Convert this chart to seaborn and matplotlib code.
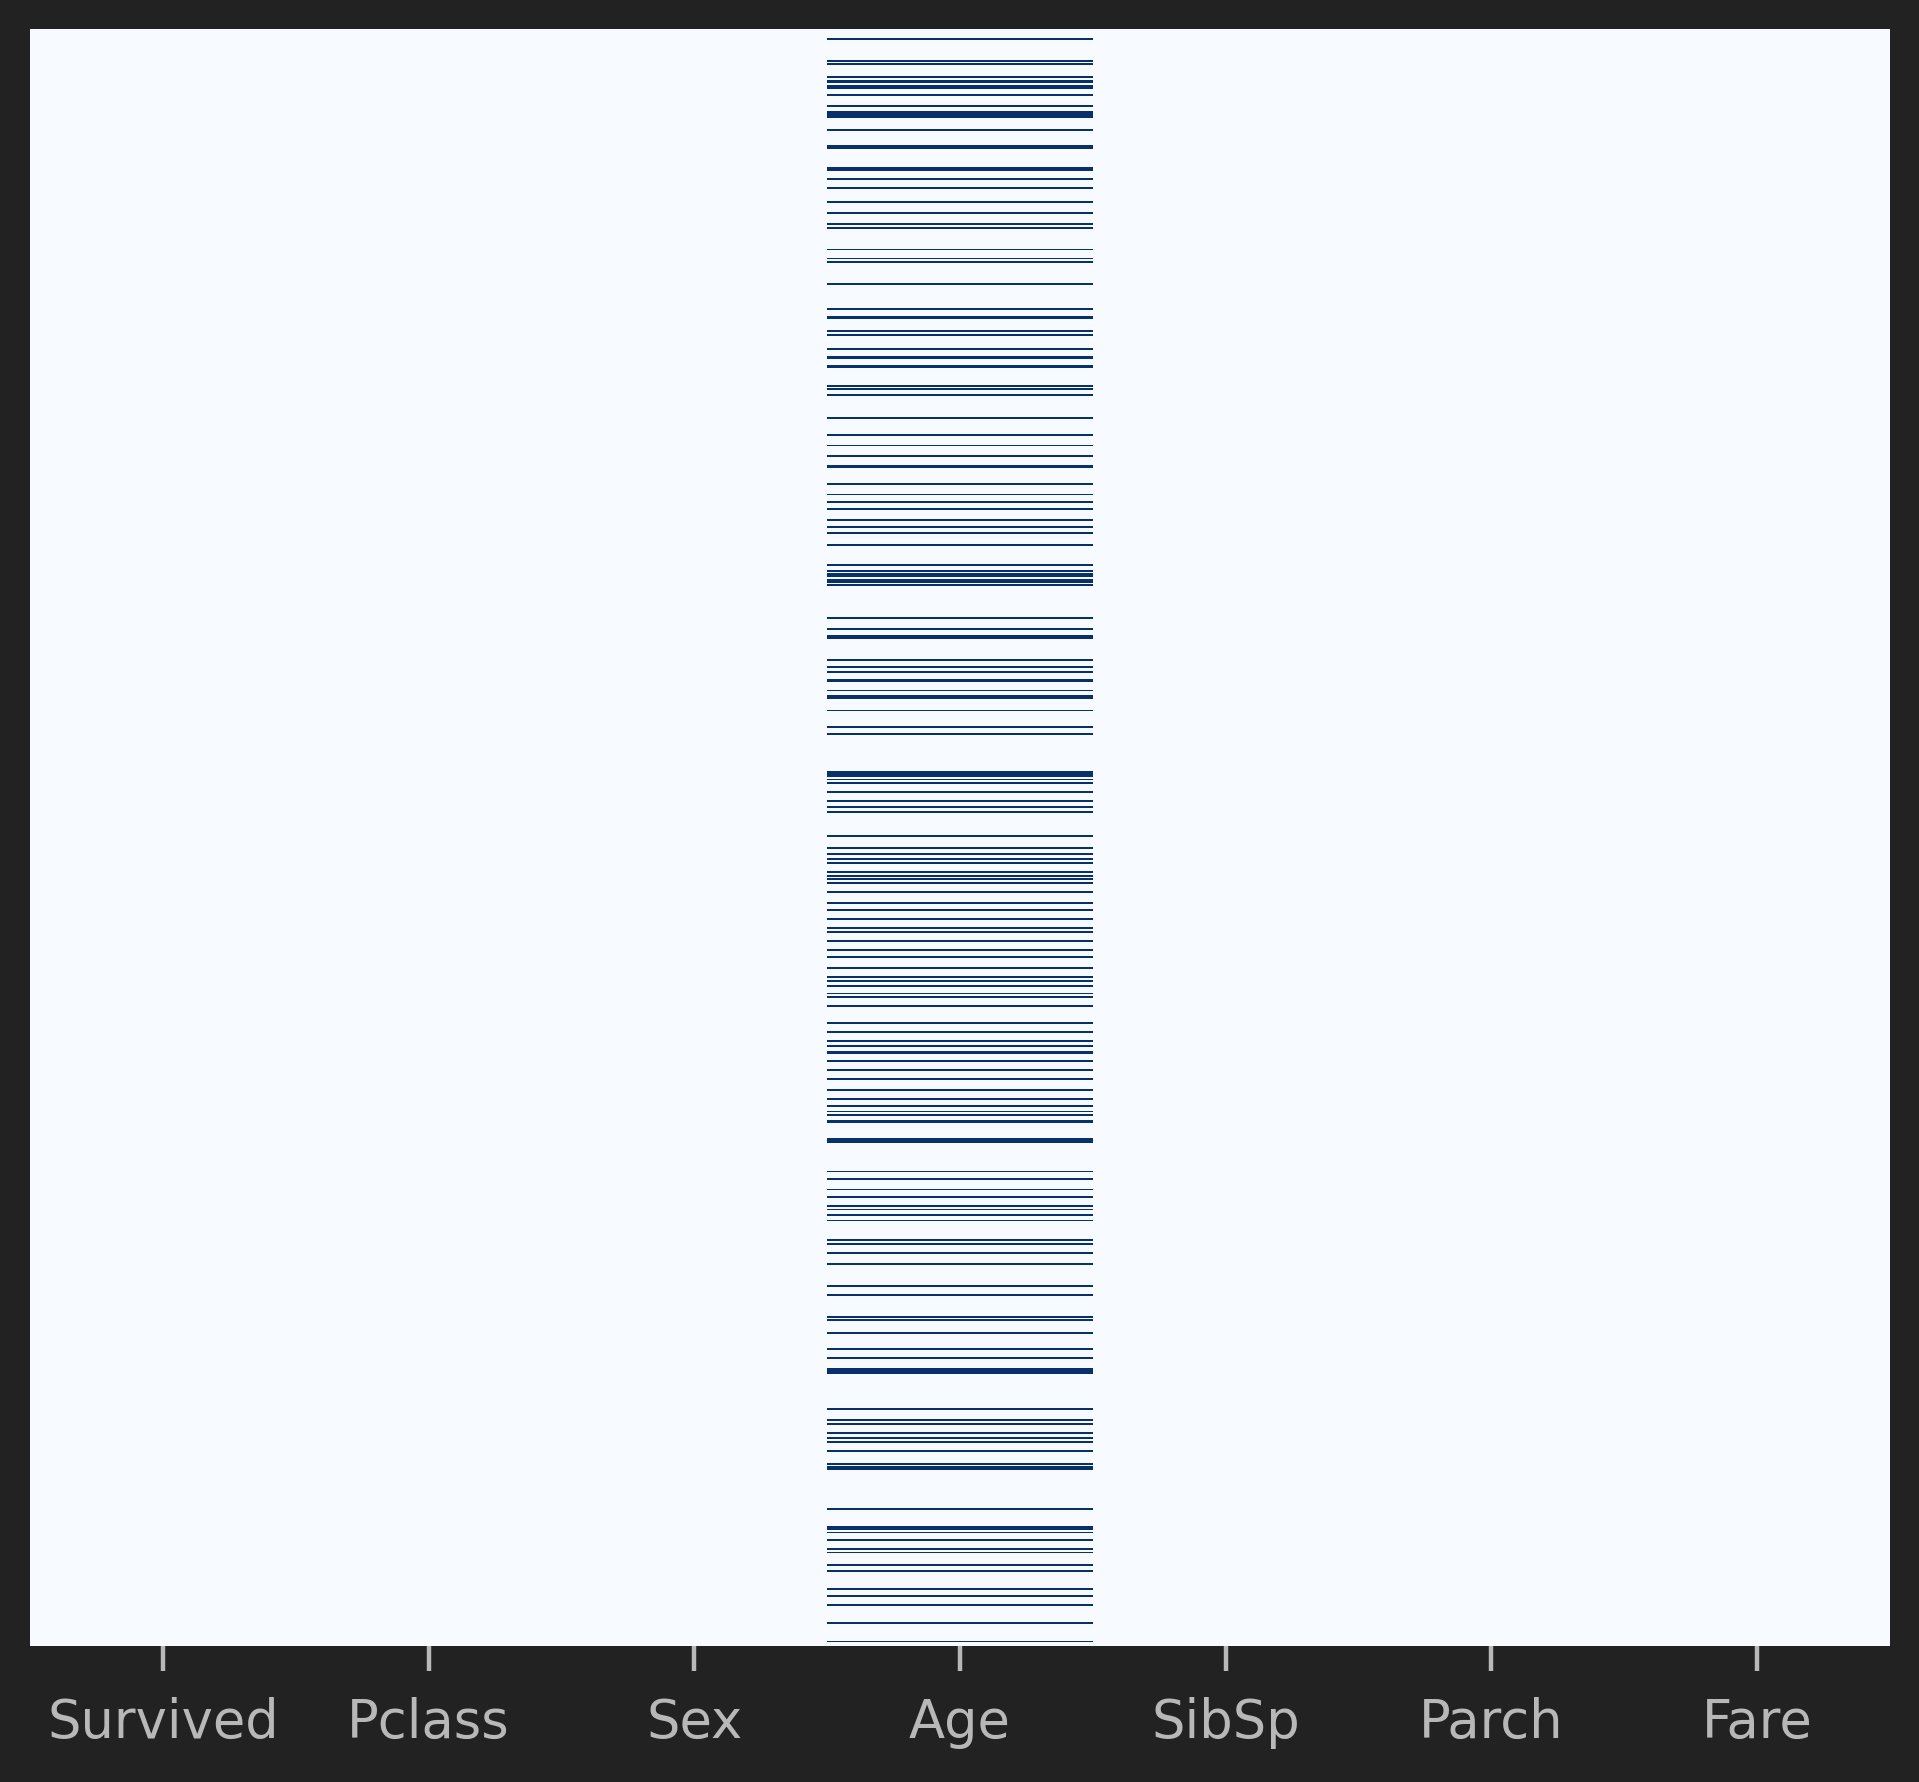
import numpy as np
import pandas as pd
import matplotlib
matplotlib.use("Agg")
import matplotlib.pyplot as plt
import seaborn as sns

# Titanic train set: 891 passengers, missing-value map
n_rows = 891
columns = ["Survived", "Pclass", "Sex", "Age", "SibSp", "Parch", "Fare"]

# PassengerIds with a missing Age
age_missing_ids = [
    6, 18, 20, 27, 29, 30, 32, 33, 37, 43, 46, 47, 48, 49, 56, 65, 66, 77, 78, 83,
    88, 96, 102, 108, 110, 122, 127, 129, 141, 155, 159, 160, 167, 169, 177, 181,
    182, 186, 187, 197, 199, 202, 215, 224, 230, 236, 241, 242, 251, 257, 261, 265,
    271, 275, 278, 285, 296, 299, 301, 302, 304, 305, 307, 325, 331, 335, 336, 348,
    352, 355, 359, 360, 365, 368, 369, 376, 385, 389, 410, 411, 412, 414, 416, 421,
    426, 429, 432, 445, 452, 455, 458, 460, 465, 467, 469, 471, 476, 482, 486, 491,
    496, 498, 503, 508, 512, 518, 523, 525, 528, 532, 534, 539, 548, 553, 558, 561,
    564, 565, 569, 574, 579, 585, 590, 594, 597, 599, 602, 603, 612, 613, 614, 630,
    634, 640, 644, 649, 651, 654, 657, 668, 670, 675, 681, 693, 698, 710, 712, 719,
    728, 733, 739, 740, 741, 761, 767, 769, 774, 777, 779, 784, 791, 793, 794, 816,
    826, 827, 829, 833, 838, 840, 847, 850, 860, 864, 869, 879, 889,
]

missing = pd.DataFrame(False, index=np.arange(1, n_rows + 1), columns=columns)
missing.loc[age_missing_ids, "Age"] = True

bg = "#222222"
label_color = "#b8b8b8"

fig, ax = plt.subplots(figsize=(9.595, 8.915), dpi=200)
fig.patch.set_facecolor(bg)
fig.subplots_adjust(left=30 / 1919, right=1890 / 1919, top=1 - 30 / 1783, bottom=1 - 1647 / 1783)

sns.heatmap(missing.astype(int), cmap="Blues", cbar=False, yticklabels=False, ax=ax)

ax.tick_params(axis="x", colors=label_color, labelsize=19, length=9, width=1.6, pad=9,
               labelrotation=0)
ax.tick_params(axis="y", left=False)
ax.set_xlabel("")
ax.set_ylabel("")

fig.savefig("out.png", dpi=200, facecolor=bg)
